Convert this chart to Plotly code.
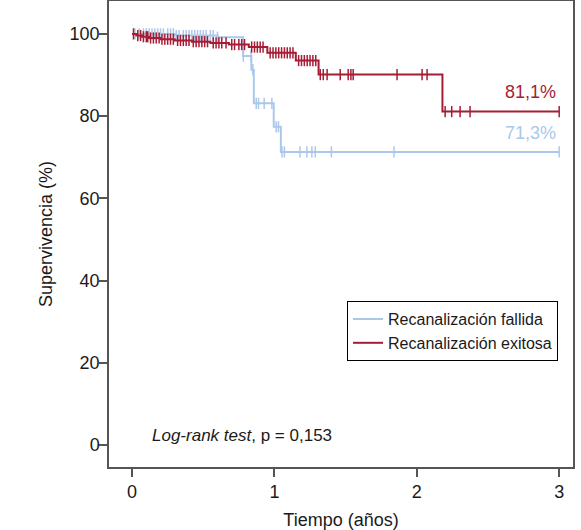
import numpy as np
import plotly.graph_objects as go

# ---- data ----
red_name = "Recanalización exitosa"
red_t = [0, 0.03, 0.07, 0.12, 0.20, 0.30, 0.42, 0.55, 0.68, 0.82, 0.95, 1.15, 1.31, 2.18]
red_s = [100, 99.6, 99.3, 99.0, 98.7, 98.4, 98.1, 97.8, 97.4, 96.8, 95.4, 93.5, 90.1, 81.1]
red_end = 3.0
red_cens = [0.01, 0.04, 0.06, 0.08, 0.10, 0.11, 0.13, 0.15, 0.17, 0.19, 0.21, 0.23, 0.25,
            0.27, 0.29, 0.32, 0.34, 0.36, 0.38, 0.40, 0.43, 0.45, 0.47, 0.49, 0.51, 0.53,
            0.57, 0.59, 0.61, 0.63, 0.66, 0.70, 0.72, 0.75, 0.77, 0.79, 0.84, 0.86, 0.88,
            0.90, 0.92, 0.97, 0.99, 1.01, 1.03, 1.05, 1.07, 1.09, 1.11, 1.13, 1.17, 1.19,
            1.21, 1.23, 1.25, 1.27, 1.29, 1.322, 1.343, 1.37, 1.462, 1.518, 1.537, 1.553,
            1.861, 2.037, 2.072, 2.199, 2.245, 2.304, 2.374, 3.0]

blue_name = "Recanalización fallida"
blue_t = [0, 0.30, 0.60, 0.78, 0.838, 0.855, 0.995, 1.045]
blue_s = [100, 99.6, 99.2, 94.6, 91.3, 83.1, 77.4, 71.3]
blue_end = 3.0
blue_cens = [0.02, 0.05, 0.08, 0.10, 0.12, 0.14, 0.16, 0.18, 0.20, 0.22, 0.25, 0.27, 0.29,
             0.31, 0.33, 0.36, 0.38, 0.40, 0.42, 0.44, 0.46, 0.48, 0.50, 0.52, 0.55, 0.57,
             0.60, 0.781, 0.835, 0.848, 0.872, 0.888, 0.928, 0.982, 1.012, 1.028, 1.053,
             1.07, 1.18, 1.228, 1.263, 1.287, 1.40, 1.84, 3.0]

x_ticks = [0, 1, 2, 3]
y_ticks = [0, 20, 40, 60, 80, 100]
red_label = "81,1%"
blue_label = "71,3%"
test_label = "<i>Log-rank test</i>, p = 0,153"

RED = "#a51d35"
BLUE = "#abc8ea"
FONT = "Liberation Sans, Arial, sans-serif"


def surv_at(ts, ss, x):
    idx = np.searchsorted(np.array(ts), np.array(x), side="right") - 1
    return [ss[i] for i in idx]


fig = go.Figure()
for name, ts, ss, end, cens, col in [
    (blue_name, blue_t, blue_s, blue_end, blue_cens, BLUE),
    (red_name, red_t, red_s, red_end, red_cens, RED),
]:
    fig.add_trace(go.Scatter(
        x=list(ts) + [end], y=list(ss) + [ss[-1]], mode="lines", name=name,
        line=dict(color=col, width=2, shape="hv"), showlegend=True))
    fig.add_trace(go.Scatter(
        x=cens, y=surv_at(ts, ss, cens), mode="markers", showlegend=False,
        marker=dict(symbol="line-ns", size=8, line=dict(color=col, width=1.5)),
        hoverinfo="skip"))

fig.add_annotation(x=2.99, y=85.9, text=red_label, showarrow=False, xanchor="right",
                   yanchor="middle", font=dict(color=RED, size=18, family=FONT))
fig.add_annotation(x=2.99, y=75.9, text=blue_label, showarrow=False, xanchor="right",
                   yanchor="middle", font=dict(color=BLUE, size=18, family=FONT))
fig.add_annotation(x=0.125, y=2.4, text=test_label, showarrow=False, xanchor="left",
                   yanchor="middle", font=dict(color="#1a1a1a", size=17, family=FONT))

axis_common = dict(showline=True, linecolor="#555555", linewidth=1.5, mirror=True,
                   ticks="outside", ticklen=8, tickwidth=1.5, tickcolor="#555555",
                   showgrid=False, zeroline=False,
                   tickfont=dict(size=18, color="#1a1a1a", family=FONT))

fig.update_layout(
    width=581, height=530,
    margin=dict(l=109, r=8, t=1, b=63, autoexpand=False),
    plot_bgcolor="white", paper_bgcolor="white",
    font=dict(family=FONT, color="#1a1a1a"),
    xaxis=dict(range=[-0.162, 3.097], tickvals=x_ticks, ticklabelstandoff=0,
               title=dict(text="Tiempo (años)", font=dict(size=18), standoff=12),
               **axis_common),
    yaxis=dict(range=[-5.35, 108.0], tickvals=y_ticks, ticklabelstandoff=-4,
               title=dict(text="Supervivencia (%)", font=dict(size=18), standoff=12),
               **axis_common),
    legend=dict(x=0.513, y=0.356, xanchor="left", yanchor="top",
                bgcolor="white", bordercolor="black", borderwidth=1,
                font=dict(size=16, family=FONT, color="#1a1a1a"),
                traceorder="normal", tracegroupgap=0),
    showlegend=True,
)

fig.write_html("out.html", config={"displayModeBar": False},
               post_script="document.body.style.margin='0px';")
